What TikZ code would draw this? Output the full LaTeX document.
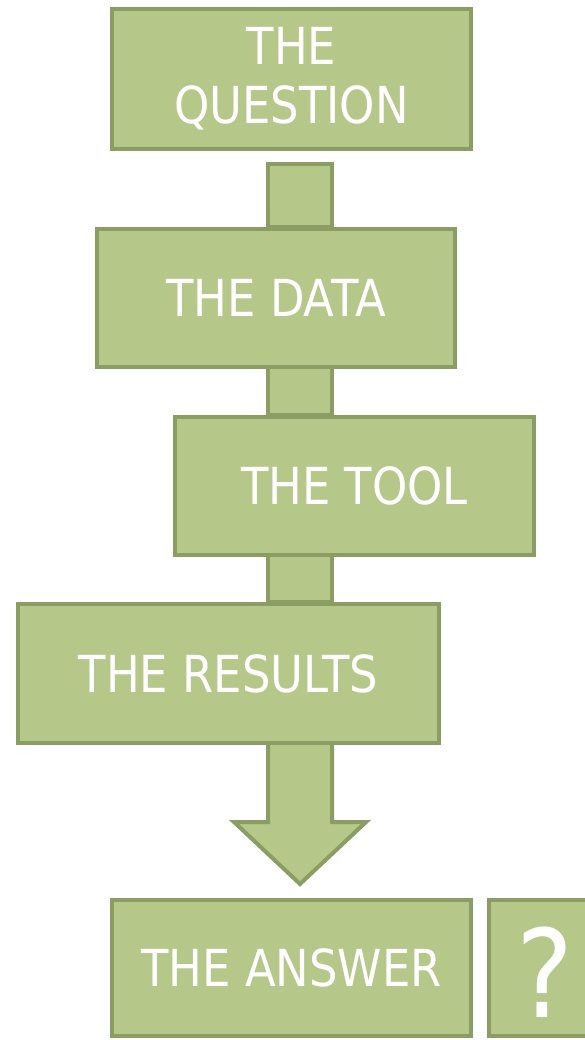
\documentclass[tikz,border=0pt]{standalone}
\usepackage{fontspec}
\setmainfont{DejaVu Sans}[FakeStretch=0.88]
\usetikzlibrary{calc, backgrounds}

\definecolor{boxfill}{RGB}{181,200,137}
\definecolor{boxline}{RGB}{138,157,98}

\begin{document}
\begin{tikzpicture}[x=1pt, y=-1pt,
    stepbox/.style={draw=boxline, fill=boxfill, line width=4pt, text=white,
        font=\fontsize{51}{59}\selectfont, align=center, inner sep=0pt},
    bar/.style={draw=boxline, fill=boxfill, line width=4pt, line join=miter}]
    \path[use as bounding box, clip] (0,0) rectangle (585,1040);

    % Steps
    \node[stepbox, minimum width=359pt, minimum height=140pt] (question) at (291.5,79) {THE\\QUESTION};
    \node[stepbox, minimum width=358pt, minimum height=138pt] (data) at (276,298) {THE DATA};
    \node[stepbox, minimum width=359pt, minimum height=138pt] (tool) at (354.5,486) {THE TOOL};
    \node[stepbox, minimum width=421pt, minimum height=139pt] (results) at (228.5,673.5) {THE RESULTS};
    \node[stepbox, minimum width=359pt, minimum height=136pt] (answer) at (291.5,968) {THE ANSWER};
    \node[stepbox, minimum width=112pt, minimum height=136pt, text height=99pt,
        font=\fontsize{122}{122}\selectfont] (mark) at (545,968) {?};

    % Bars between the steps
    \coordinate (barL) at (268,0);
    \coordinate (barR) at (332,0);
    \coordinate (headbase) at (300,822);
    \coordinate (tip) at (300,884);
    \begin{scope}[on background layer]
        \foreach \a/\b/\gap in {question/data/13, data/tool/-10, tool/results/-10} {
            \draw[bar] ($(barL |- \a.south)+(0,\gap)$) rectangle (barR |- \b.north);
        }
        % Arrow down to the answer
        \draw[bar] ($(barL |- results.south)+(0,-10)$) -- (barL |- headbase)
            -- ($(headbase)+(-66,0)$) -- (tip) -- ($(headbase)+(66,0)$)
            -- (barR |- headbase) -- ($(barR |- results.south)+(0,-10)$) -- cycle;
    \end{scope}
\end{tikzpicture}
\end{document}
